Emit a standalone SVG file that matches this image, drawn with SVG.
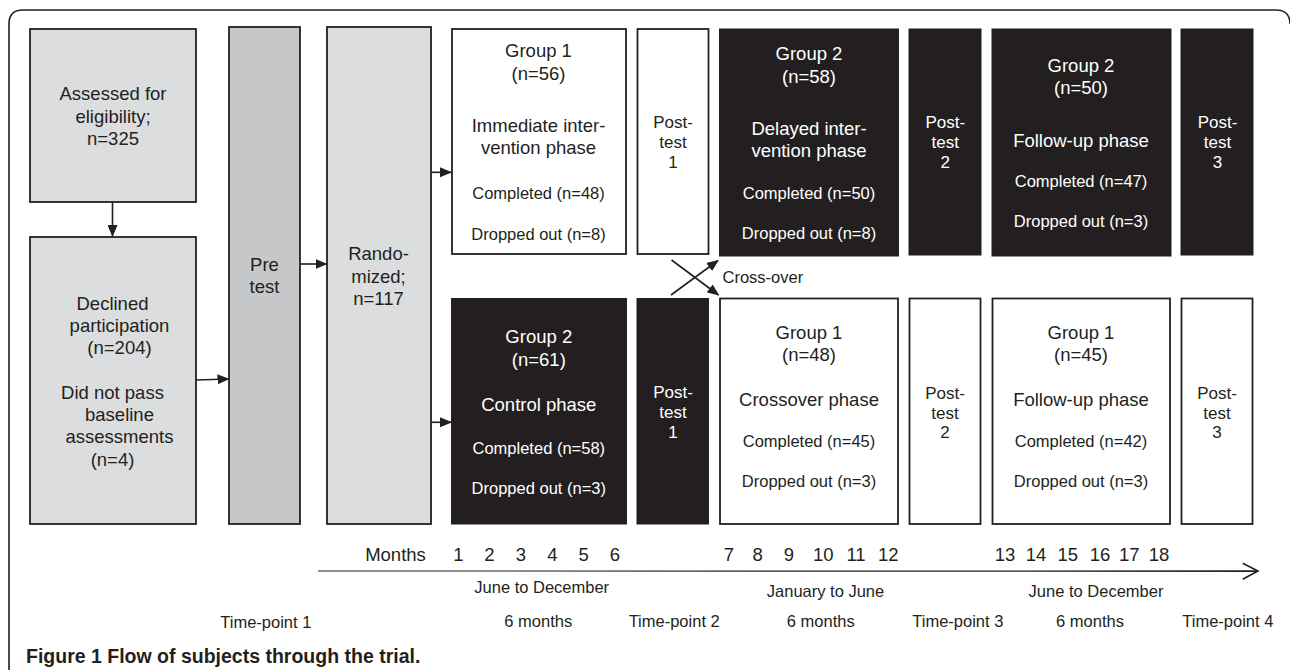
<svg xmlns="http://www.w3.org/2000/svg" width="1290" height="670" viewBox="0 0 1290 670">
<style>
text{font-family:"Liberation Sans",Arial,sans-serif;fill:#231f20;text-anchor:middle}
.m{font-size:18.5px}
.s{font-size:16.5px}
.p{font-size:17px}
.w{fill:#ffffff}
.gray{fill:#dcddde;stroke:#231f20;stroke-width:1.8}
.dgray{fill:#c6c7c8;stroke:#231f20;stroke-width:1.8}
.wh{fill:#ffffff;stroke:#231f20;stroke-width:1.8}
.bk{fill:#231f20;stroke:#231f20;stroke-width:1}
.ln{stroke:#231f20;stroke-width:1.6;fill:none}
.cap{font-family:"Liberation Sans",Arial,sans-serif;font-weight:bold;font-size:19.5px;text-anchor:start}
</style>
<defs>
<marker id="ah" markerWidth="12" markerHeight="10" refX="11" refY="5" orient="auto" markerUnits="userSpaceOnUse">
<path d="M0,0 L12,5 L0,10 Z" fill="#231f20"/>
</marker>
</defs>
<rect width="1290" height="670" fill="#ffffff"/>
<path class="ln" d="M9,670 V24 Q9,10 23,10 H1276 Q1290,10 1290,24" stroke-width="1.8"/>

<g id="assessed">
<rect class="gray" x="30" y="29" width="166" height="173"/>
<text class="m" x="113" y="100">Assessed for</text>
<text class="m" x="113" y="122.5">eligibility;</text>
<text class="m" x="113" y="145">n=325</text>
</g>
<g id="declined">
<rect class="gray" x="30" y="237" width="166" height="287"/>
<text class="m" x="112.5" y="310">Declined</text>
<text class="m" x="119.5" y="332">participation</text>
<text class="m" x="119.5" y="354">(n=204)</text>
<text class="m" x="112.5" y="399">Did not pass</text>
<text class="m" x="119.5" y="421">baseline</text>
<text class="m" x="119.5" y="443">assessments</text>
<text class="m" x="112.5" y="466">(n=4)</text>
</g>
<g id="pretest">
<rect class="dgray" x="229" y="27" width="71" height="497"/>
<text class="m" x="264.5" y="271">Pre</text>
<text class="m" x="264.5" y="293">test</text>
</g>
<g id="randomized">
<rect class="gray" x="327" y="27" width="104" height="497"/>
<text class="m" x="378.5" y="260">Rando-</text>
<text class="m" x="378.5" y="282.5">mized;</text>
<text class="m" x="378.5" y="304.5">n=117</text>
</g>

<g id="g1-immediate">
<rect class="wh" x="452" y="29" width="174" height="225"/>
<text class="m" x="538.5" y="57">Group 1</text>
<text class="m" x="538.5" y="80">(n=56)</text>
<text class="m" x="538.5" y="132">Immediate inter-</text>
<text class="m" x="538.5" y="154">vention phase</text>
<text class="s" x="538.5" y="198.5">Completed (n=48)</text>
<text class="s" x="538.5" y="240">Dropped out (n=8)</text>
</g>
<g id="posttest1-top">
<rect class="wh" x="637.5" y="29" width="71" height="225"/>
<text class="p" x="673" y="128">Post-</text>
<text class="p" x="673" y="148">test</text>
<text class="p" x="673" y="168">1</text>
</g>
<g id="g2-delayed">
<rect class="bk" x="719.5" y="29" width="179" height="227"/>
<text class="m w" x="809" y="60">Group 2</text>
<text class="m w" x="809" y="83">(n=58)</text>
<text class="m w" x="809" y="135">Delayed inter-</text>
<text class="m w" x="809" y="157">vention phase</text>
<text class="s w" x="809" y="199">Completed (n=50)</text>
<text class="s w" x="809" y="239">Dropped out (n=8)</text>
</g>
<g id="posttest2-top">
<rect class="bk" x="909" y="29" width="72" height="226"/>
<text class="p w" x="945.3" y="128">Post-</text>
<text class="p w" x="945.3" y="148">test</text>
<text class="p w" x="945.3" y="168">2</text>
</g>
<g id="g2-followup">
<rect class="bk" x="992" y="29" width="179" height="227"/>
<text class="m w" x="1081" y="72">Group 2</text>
<text class="m w" x="1081" y="94">(n=50)</text>
<text class="m w" x="1081" y="147">Follow-up phase</text>
<text class="s w" x="1081" y="187">Completed (n=47)</text>
<text class="s w" x="1081" y="227">Dropped out (n=3)</text>
</g>
<g id="posttest3-top">
<rect class="bk" x="1181" y="29" width="72" height="226"/>
<text class="p w" x="1217.5" y="128">Post-</text>
<text class="p w" x="1217.5" y="148">test</text>
<text class="p w" x="1217.5" y="168">3</text>
</g>

<g id="g2-control">
<rect class="bk" x="451.5" y="298.5" width="175" height="225.5"/>
<text class="m w" x="538.8" y="343">Group 2</text>
<text class="m w" x="538.8" y="366">(n=61)</text>
<text class="m w" x="538.8" y="411">Control phase</text>
<text class="s w" x="538.8" y="454">Completed (n=58)</text>
<text class="s w" x="538.8" y="494">Dropped out (n=3)</text>
</g>
<g id="posttest1-bottom">
<rect class="bk" x="637" y="298.5" width="71.5" height="225.5"/>
<text class="p w" x="673" y="397.5">Post-</text>
<text class="p w" x="673" y="418">test</text>
<text class="p w" x="673" y="437.5">1</text>
</g>
<g id="g1-crossover">
<rect class="wh" x="720" y="298.5" width="178" height="225.5"/>
<text class="m" x="809" y="338.5">Group 1</text>
<text class="m" x="809" y="361">(n=48)</text>
<text class="m" x="809" y="406">Crossover phase</text>
<text class="s" x="809" y="447">Completed (n=45)</text>
<text class="s" x="809" y="487">Dropped out (n=3)</text>
</g>
<g id="posttest2-bottom">
<rect class="wh" x="909.5" y="298.5" width="71" height="225.5"/>
<text class="p" x="945" y="398.5">Post-</text>
<text class="p" x="945" y="418.5">test</text>
<text class="p" x="945" y="438">2</text>
</g>
<g id="g1-followup">
<rect class="wh" x="992.5" y="298.5" width="177.5" height="225.5"/>
<text class="m" x="1081" y="338.5">Group 1</text>
<text class="m" x="1081" y="361">(n=45)</text>
<text class="m" x="1081" y="406">Follow-up phase</text>
<text class="s" x="1081" y="447">Completed (n=42)</text>
<text class="s" x="1081" y="487">Dropped out (n=3)</text>
</g>
<g id="posttest3-bottom">
<rect class="wh" x="1181.5" y="298.5" width="71" height="225.5"/>
<text class="p" x="1217" y="398.5">Post-</text>
<text class="p" x="1217" y="418.5">test</text>
<text class="p" x="1217" y="438">3</text>
</g>

<g id="connectors">
<line class="ln" x1="112.5" y1="202" x2="112.5" y2="236" marker-end="url(#ah)"/>
<line class="ln" x1="196" y1="380" x2="228.5" y2="379" marker-end="url(#ah)"/>
<line class="ln" x1="300" y1="264" x2="326.5" y2="264" marker-end="url(#ah)"/>
<line class="ln" x1="431" y1="172.3" x2="451" y2="172.3" marker-end="url(#ah)"/>
<line class="ln" x1="431" y1="422.3" x2="451" y2="422.3" marker-end="url(#ah)"/>
<line class="ln" x1="671" y1="295" x2="718" y2="260.5" marker-end="url(#ah)"/>
<line class="ln" x1="671.5" y1="260" x2="718.5" y2="295" marker-end="url(#ah)"/>
<text class="s" x="722.5" y="283" style="text-anchor:start">Cross-over</text>
</g>

<g id="timeline">
<path d="M318,570.6 L1258,570.3 L1258,571.9 L318,571.4 Z" fill="#231f20"/>
<path class="ln" d="M1242.7,563.3 L1258,571 L1242.7,579.3"/>
<text class="m" x="395.5" y="561">Months</text>
<text class="m" x="458.3" y="561">1</text>
<text class="m" x="489.3" y="561">2</text>
<text class="m" x="521" y="561">3</text>
<text class="m" x="552.3" y="561">4</text>
<text class="m" x="583.7" y="561">5</text>
<text class="m" x="615" y="561">6</text>
<text class="m" x="729" y="561">7</text>
<text class="m" x="757.7" y="561">8</text>
<text class="m" x="789" y="561">9</text>
<text class="m" x="823.3" y="561">10</text>
<text class="m" x="856" y="561">11</text>
<text class="m" x="888.3" y="561">12</text>
<text class="m" x="1005" y="561">13</text>
<text class="m" x="1036" y="561">14</text>
<text class="m" x="1067.7" y="561">15</text>
<text class="m" x="1100" y="561">16</text>
<text class="m" x="1129.3" y="561">17</text>
<text class="m" x="1159" y="561">18</text>
<text class="s" x="541.7" y="593">June to December</text>
<text class="s" x="825.5" y="597">January to June</text>
<text class="s" x="1096" y="597">June to December</text>
<text class="s" x="265.8" y="627.5">Time-point 1</text>
<text class="s" x="538.3" y="627">6 months</text>
<text class="s" x="674.2" y="627">Time-point 2</text>
<text class="s" x="820.8" y="627">6 months</text>
<text class="s" x="957.8" y="627">Time-point 3</text>
<text class="s" x="1090" y="627">6 months</text>
<text class="s" x="1227.8" y="627">Time-point 4</text>
</g>

<text class="cap" x="26" y="663">Figure 1 Flow of subjects through the trial.</text>
</svg>
